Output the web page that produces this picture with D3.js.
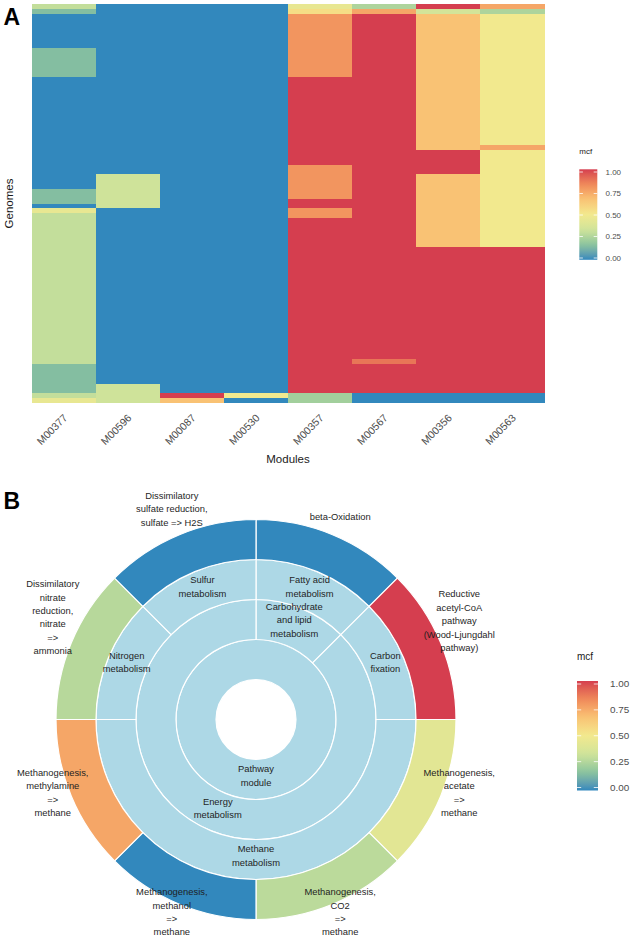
<!DOCTYPE html>
<html><head><meta charset="utf-8">
<script src="https://cdn.jsdelivr.net/npm/d3@7/dist/d3.min.js"></script>
<style>body{margin:0;background:#fff}svg{display:block;font-family:"Liberation Sans",Arial,Helvetica,sans-serif}</style>
</head><body><svg id="c" width="633" height="940"></svg>
<script>
// ---------- Panel A data ----------
const modules = ["M00377","M00596","M00087","M00530","M00357","M00567","M00356","M00563"];
const nGenomes = 82;
// mcf values per genome (top to bottom), as [value, number of consecutive genomes]
const runs_M00377 = [[0.3,1],[0.15,1],[0,7],[0.15,6],[0,23],[0.15,3],[0,1],[0.45,1],[0.3,31],[0.15,6],[0.3,1],[0.45,1]];
const runs_M00596 = [[0,35],[0.33,7],[0,36],[0.33,4]];
const runs_M00087 = [[0,80],[1,1],[0.67,1]];
const runs_M00530 = [[0,80],[0.5,1],[0,1]];
const runs_M00357 = [[0.45,1],[0.55,1],[0.8,13],[1,18],[0.8,7],[1,2],[0.8,2],[1,36],[0.22,2]];
const runs_M00567 = [[0.25,1],[0.75,1],[1,71],[0.88,1],[1,6],[0,2]];
const runs_M00356 = [[1,1],[0.35,1],[0.67,28],[1,5],[0.67,15],[1,30],[0,2]];
const runs_M00563 = [[0.75,1],[0.25,1],[0.5,27],[0.75,1],[0.5,20],[1,30],[0,2]];
const moduleRuns = [runs_M00377,runs_M00596,runs_M00087,runs_M00530,runs_M00357,runs_M00567,runs_M00356,runs_M00563];

const legendValues = [1,0.75,0.5,0.25,0];
const legendLabels = ["1.00","0.75","0.50","0.25","0.00"];

// ---------- Panel B data ----------
const sbModules = ["beta-Oxidation",
  "Reductive\nacetyl-CoA\npathway\n(Wood-Ljungdahl\npathway)",
  "Methanogenesis,\nacetate\n=>\nmethane",
  "Methanogenesis,\nCO2\n=>\nmethane",
  "Methanogenesis,\nmethanol\n=>\nmethane",
  "Methanogenesis,\nmethylamine\n=>\nmethane",
  "Dissimilatory\nnitrate\nreduction,\nnitrate\n=>\nammonia",
  "Dissimilatory\nsulfate reduction,\nsulfate => H2S"];
const sbModuleMcf = [0, 1, 0.42, 0.28, 0, 0.75, 0.27, 0];
const sbLevel3 = ["Fatty acid\nmetabolism","Carbon\nfixation","Methane\nmetabolism","Nitrogen\nmetabolism","Sulfur\nmetabolism"];
const sbLevel3Span = [1,1,4,1,1];
const sbLevel2 = ["Carbohydrate\nand lipid\nmetabolism","Energy\nmetabolism"];
const sbLevel2Span = [1,7];
const sbLevel1 = ["Pathway\nmodule"];
const sbLevel1Span = [8];

const paletteStops = [0, 0.17, 0.33, 0.5, 0.67, 0.83, 1];
const paletteColors = ["#3288BD","#8CC69D","#CFE39A","#F2E98E","#F9C274","#F08A5A","#D53E4F"];
const color = d3.scaleLinear().domain(paletteStops).range(paletteColors).interpolate(d3.interpolateLab);

const svg = d3.select("#c");
const defs = svg.append("defs");
const grad = defs.append("linearGradient").attr("id","g").attr("x1",0).attr("y1",1).attr("x2",0).attr("y2",0);
d3.range(0,1.0001,0.05).forEach(t=>grad.append("stop").attr("offset",t).attr("stop-color",color(t)));

// ---------- Panel A ----------
const x = d3.scaleBand().domain(modules).range([32,544.5]).padding(0);
const y = d3.scaleBand().domain(d3.range(nGenomes)).range([4,403]).padding(0);
const gA = svg.append("g");
modules.forEach((m,i)=>{
  let row = 0;
  moduleRuns[i].forEach(([v,n])=>{
    for(let k=0;k<n;k++){
      gA.append("rect").attr("x",x(m)).attr("y",y(row)).attr("width",x.bandwidth()+0.3).attr("height",y.bandwidth()+0.3)
        .attr("fill",color(v)).attr("shape-rendering","crispEdges");
      row++;
    }
  });
});
const xAxis = svg.append("g").attr("transform","translate(0,403)")
  .call(d3.axisBottom(x).tickSize(0).tickPadding(0));
xAxis.select(".domain").remove();
xAxis.selectAll("text").attr("y",0).attr("transform","translate(1.5,13) rotate(-45)").attr("text-anchor","end")
  .attr("dy","0.35em").attr("fill","#4d4d4d").style("font-size","10.5px").style("font-family","Liberation Sans, Arial, sans-serif");
svg.append("text").attr("x",288).attr("y",463).attr("text-anchor","middle").style("font-size","11.5px").attr("fill","#1a1a1a").text("Modules");
svg.append("text").attr("transform","translate(12.5,203.5) rotate(-90)").attr("text-anchor","middle").style("font-size","11.5px").attr("fill","#1a1a1a").text("Genomes");
svg.append("text").attr("x",3.5).attr("y",25).style("font-size","23px").style("font-weight","bold").text("A");
svg.append("text").attr("x",3.5).attr("y",508.5).style("font-size","23px").style("font-weight","bold").text("B");

function legend(x0, titleY, barTop, barBot, tickTop, tickBot, w, fsT, fsL, labX){
  const ly = d3.scaleLinear().domain([0,1]).range([tickBot,tickTop]);
  svg.append("text").attr("x",x0).attr("y",titleY).style("font-size",fsT+"px").attr("fill","#1a1a1a").text("mcf");
  svg.append("rect").attr("x",x0).attr("y",barTop).attr("width",w).attr("height",barBot-barTop).attr("fill","url(#g)");
  legendValues.forEach((v,i)=>{
    const yy = ly(v);
    svg.append("line").attr("x1",x0).attr("x2",x0+w/5).attr("y1",yy).attr("y2",yy).attr("stroke","#fff").attr("stroke-width",0.8);
    svg.append("line").attr("x1",x0+w-w/5).attr("x2",x0+w).attr("y1",yy).attr("y2",yy).attr("stroke","#fff").attr("stroke-width",0.8);
    svg.append("text").attr("x",labX).attr("y",yy).attr("dy","0.35em").style("font-size",fsL+"px").attr("fill","#4d4d4d").text(legendLabels[i]);
  });
}
legend(579.3, 153.5, 169.3, 259.8, 172, 258, 18, 8, 8, 605.5);
legend(577, 660, 681, 790.5, 684, 787.5, 21, 10, 9.9, 610);

// ---------- Panel B ----------
const cx = 256, cy = 719.5;
const ang = d3.scaleLinear().domain([0,8]).range([0,2*Math.PI]);
const rad = d3.scaleLinear().domain([0,5]).range([0,200]);
const gB = svg.append("g").attr("transform",`translate(${cx},${cy})`);
const levels = [
  {names: sbLevel1, spans: sbLevel1Span, level:1, fill:()=> "#ADD8E6"},
  {names: sbLevel2, spans: sbLevel2Span, level:2, fill:()=> "#ADD8E6"},
  {names: sbLevel3, spans: sbLevel3Span, level:3, fill:()=> "#ADD8E6"},
  {names: sbModules, spans: sbModules.map(()=>1), level:4, fill:(i)=> color(sbModuleMcf[i])}
];
const LH = 13.4, FS = 9.4;
levels.forEach(L=>{
  let start = 0;
  L.names.forEach((nm,i)=>{
    const s = start, e = start + L.spans[i];
    start = e;
    const arc = d3.arc().innerRadius(rad(L.level)).outerRadius(rad(L.level+1)).startAngle(ang(s)).endAngle(ang(e));
    gB.append("path").attr("d",arc()).attr("fill",L.fill(i)).attr("stroke","#fff").attr("stroke-width",1.2);
  });
});
levels.forEach(L=>{
  let start = 0;
  L.names.forEach((nm,i)=>{
    const s = start, e = start + L.spans[i];
    start = e;
    const th = ang((s+e)/2);
    const R = L.level===4 ? rad(5.5) : rad(L.level+0.5);
    const px = R*Math.sin(th), py = -R*Math.cos(th);
    const lines = nm.split("\n"), n = lines.length;
    const t = gB.append("text").attr("text-anchor","middle").style("font-size",FS+"px").attr("fill","#1f1f1f");
    lines.forEach((ln,k)=>{
      const yy = py - (n-1)*3.6 + (k-(n-1)/2)*LH;
      t.append("tspan").attr("x",px).attr("y",yy).attr("dy","0.35em").text(ln);
    });
  });
});
</script></body></html>
